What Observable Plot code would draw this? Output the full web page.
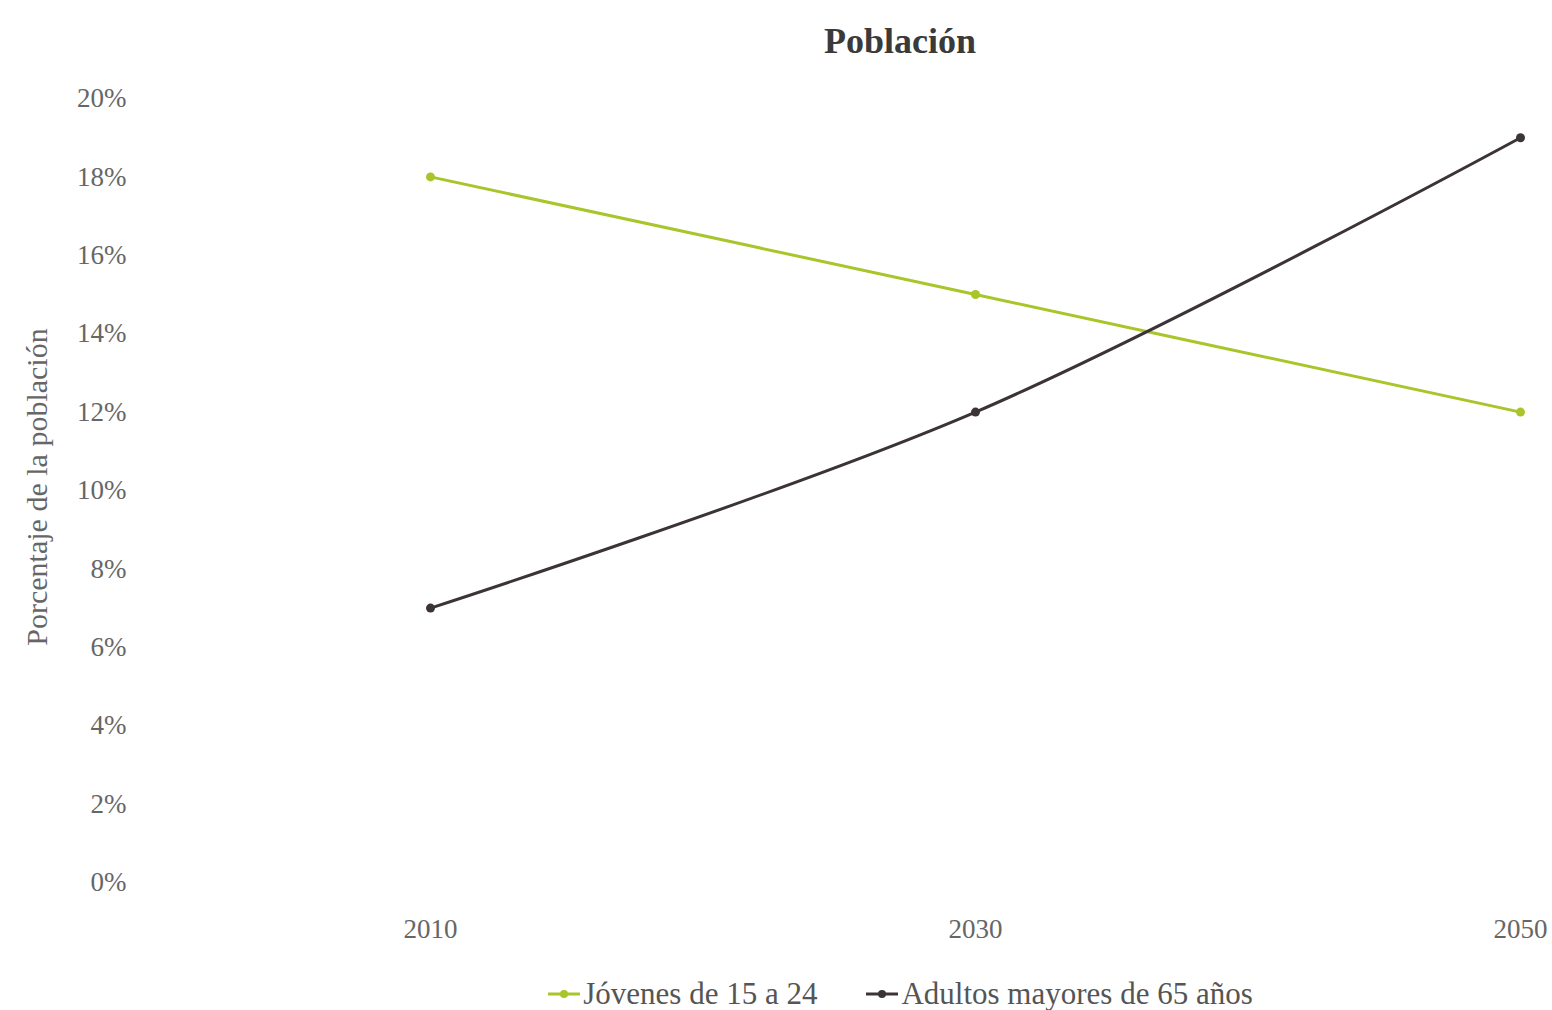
<!DOCTYPE html>
<html>
<head>
<meta charset="utf-8">
<script src="https://cdn.jsdelivr.net/npm/d3@7"></script>
<script src="https://cdn.jsdelivr.net/npm/@observablehq/plot@0.6"></script>
<style>
  body { margin: 0; background: #fff; }
  #wrap { position: relative; width: 1552px; height: 1010px; font-family: "Liberation Serif", serif; }
  #title { position: absolute; top: 20px; left: 0; width: 1800px; text-align: center; font-size: 36px; font-weight: bold; color: #3a3a3a; }
  #legend { position: absolute; top: 976px; left: 0; width: 1800px; display: flex; justify-content: center; gap: 48px; font-size: 31px; color: #555; }
  #legend .item { display: flex; align-items: center; gap: 2px; }
  #chart { position: absolute; top: 0; left: 0; }
</style>
</head>
<body>
<div id="wrap">
  <div id="chart"></div>
  <div id="title">Población</div>
  <div id="legend"></div>
</div>
<script>
const years = [2010, 2030, 2050];
const seriesNames = ["Jóvenes de 15 a 24", "Adultos mayores de 65 años"];
const jovenes = [18, 15, 12];
const adultos = [7, 12, 19];
const colors = ["#a8c52a", "#3b3338"];
const yTicks = [0, 2, 4, 6, 8, 10, 12, 14, 16, 18, 20];

const data = [];
years.forEach((yr, i) => {
  data.push({year: yr, value: jovenes[i], serie: seriesNames[0]});
  data.push({year: yr, value: adultos[i], serie: seriesNames[1]});
});

const chart = Plot.plot({
  width: 1552,
  height: 960,
  marginTop: 98,
  marginBottom: 78,
  marginLeft: 130,
  marginRight: 32,
  style: {fontFamily: "Liberation Serif, serif", fontSize: "27px", color: "#666", background: "transparent"},
  x: {domain: [2010, 2050], range: [430, 1520]},
  y: {domain: [0, 20]},
  color: {domain: seriesNames, range: colors},
  marks: [
    Plot.axisY({ticks: yTicks, tickSize: 0, tickPadding: 4, tickFormat: d => d + "%",
      label: null, fontSize: 27}),
    Plot.axisX({ticks: years, tickSize: 0, tickPadding: 36, tickFormat: d => String(d), label: null, fontSize: 27}),
    Plot.line(data, {x: "year", y: "value", z: "serie", stroke: "serie", strokeWidth: 3, curve: "catmull-rom"}),
    Plot.dot(data, {x: "year", y: "value", fill: "serie", r: 4.5})
  ]
});
// y-axis title
const svg = d3.select(chart);
svg.append("text")
  .attr("transform", "translate(40,487) rotate(-90)")
  .attr("text-anchor", "middle")
  .attr("dominant-baseline", "middle")
  .attr("font-size", 30)
  .attr("fill", "#666")
  .text("Porcentaje de la población");
document.getElementById("chart").appendChild(chart);

const legend = document.getElementById("legend");
seriesNames.forEach((name, i) => {
  const item = document.createElement("div");
  item.className = "item";
  item.innerHTML = `<svg width="34" height="16"><line x1="1" y1="8" x2="33" y2="8" stroke="${colors[i]}" stroke-width="3"/><circle cx="17" cy="8" r="4" fill="${colors[i]}"/></svg><span>${name}</span>`;
  legend.appendChild(item);
});
</script>
</body>
</html>
